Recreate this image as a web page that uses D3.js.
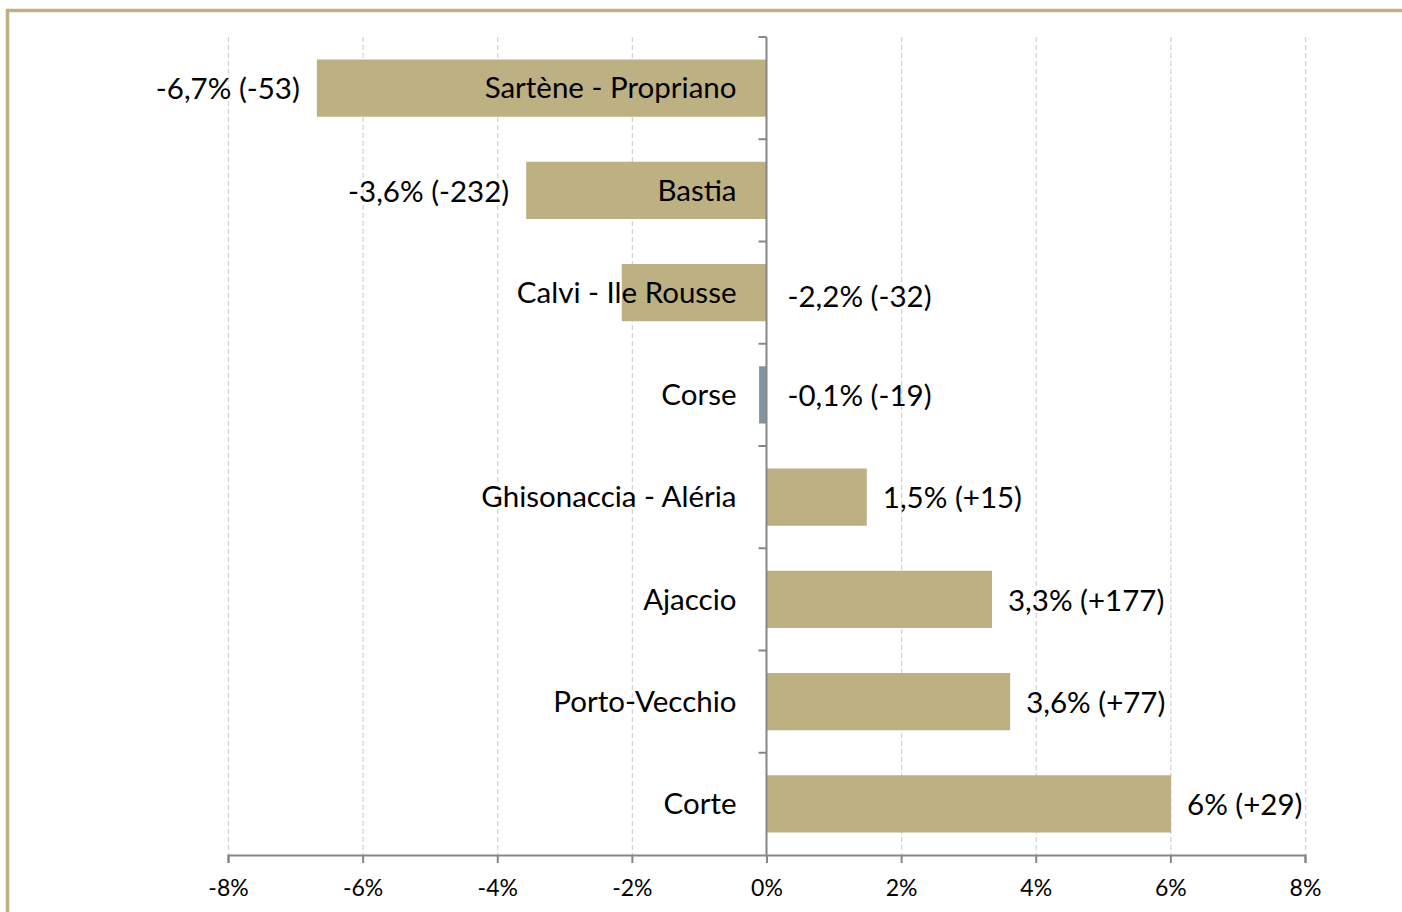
<!DOCTYPE html>
<html>
<head>
<meta charset="utf-8">
<script src="https://cdn.jsdelivr.net/npm/d3@7"></script>
<style>
  body { margin: 0; background: #fff; }
  svg text { font-family: Lato, 'Open Sans', sans-serif; fill: #000; }
</style>
</head>
<body>
<div id="chart"></div>
<script>
// data
var categories = ['Sartène - Propriano', 'Bastia', 'Calvi - Ile Rousse', 'Corse',
                  'Ghisonaccia - Aléria', 'Ajaccio', 'Porto-Vecchio', 'Corte'];
var values = [-6.68, -3.57, -2.15, -0.11, 1.49, 3.35, 3.62, 6.01];
var valueLabels = ['-6,7% (-53)', '-3,6% (-232)', '-2,2% (-32)', '-0,1% (-19)',
                   '1,5% (+15)', '3,3% (+177)', '3,6% (+77)', '6% (+29)'];
var xTicks = [-8, -6, -4, -2, 0, 2, 4, 6, 8];

var W = 1402, H = 912;
var margin = {top: 37, left: 228, right: 97, bottom: 57};

var svg = d3.select('#chart')
  .append('svg')
    .attr('width', W)
    .attr('height', H);

// frame border (only top and left are visible)
svg.append('rect')
  .attr('x', 7.5)
  .attr('y', 10.5)
  .attr('width', W + 20)
  .attr('height', H + 20)
  .attr('fill', 'none')
  .attr('stroke', '#bfb07f')
  .attr('stroke-width', 3.5);

var x = d3.scaleLinear()
    .domain([-8, 8])
    .range([margin.left, W - margin.right]);

var y = d3.scaleBand()
    .domain(categories)
    .range([margin.top, H - margin.bottom])
    .paddingInner(0.44)
    .paddingOuter(0.22);

var bottom = H - margin.bottom;
var step = y.step();

// dashed vertical gridlines
svg.append('g')
  .selectAll('line')
  .data(xTicks.filter(function(d) { return d !== 0; }))
  .enter().append('line')
    .attr('x1', function(d) { return x(d) + 0.5; })
    .attr('x2', function(d) { return x(d) + 0.5; })
    .attr('y1', margin.top)
    .attr('y2', bottom)
    .attr('stroke', '#d4d4d4')
    .attr('stroke-width', 1.3)
    .attr('stroke-dasharray', '5,3');

// bars
svg.append('g')
  .selectAll('rect')
  .data(values)
  .enter().append('rect')
    .attr('x', function(d) { return x(Math.min(0, d)); })
    .attr('y', function(d, i) { return y(categories[i]); })
    .attr('width', function(d) { return Math.abs(x(d) - x(0)); })
    .attr('height', y.bandwidth())
    .attr('fill', function(d, i) { return categories[i] === 'Corse' ? '#7f95a0' : '#bdb082'; });

// x axis
var xAxis = svg.append('g')
    .attr('transform', 'translate(0,' + bottom + ')')
    .call(d3.axisBottom(x).tickValues(xTicks).tickSize(8).tickPadding(17)
      .tickFormat(function(d) { return d + '%'; }));
xAxis.select('.domain').attr('stroke', '#868686').attr('stroke-width', 2);
xAxis.selectAll('.tick line').attr('stroke', '#868686').attr('stroke-width', 2);
xAxis.selectAll('text').attr('font-size', 23).attr('font-family', 'Lato, sans-serif');

// vertical axis at zero, ticks at band boundaries
var yAxis = svg.append('g');
yAxis.append('line')
  .attr('x1', x(0))
  .attr('x2', x(0))
  .attr('y1', margin.top)
  .attr('y2', bottom)
  .attr('stroke', '#868686')
  .attr('stroke-width', 2);
yAxis.selectAll('.ytick')
  .data(categories)
  .enter().append('line')
    .attr('class', 'ytick')
    .attr('x1', x(0) - 8)
    .attr('x2', x(0))
    .attr('y1', function(d) { return y(d) - (y.paddingInner() * step) / 2; })
    .attr('y2', function(d) { return y(d) - (y.paddingInner() * step) / 2; })
    .attr('stroke', '#868686')
    .attr('stroke-width', 2);

// category labels
svg.append('g')
  .selectAll('text')
  .data(categories)
  .enter().append('text')
    .attr('x', x(0) - 30)
    .attr('y', function(d) { return y(d) + y.bandwidth() / 2; })
    .attr('dy', '0.35em')
    .attr('text-anchor', 'end')
    .attr('font-size', 29.5)
    .text(function(d) { return d; });

// value labels: short negative bars get their label right of zero
function shortNeg(d) { return d < 0 && d > -2.5; }
svg.append('g')
  .selectAll('text')
  .data(values)
  .enter().append('text')
    .attr('x', function(d) {
      if (shortNeg(d)) return x(0) + 21;
      return d < 0 ? x(d) - 17 : x(d) + 16;
    })
    .attr('y', function(d, i) {
      var c = y(categories[i]) + y.bandwidth() / 2;
      return (shortNeg(d) && d < -1) ? c + 4 : c + 1;
    })
    .attr('dy', '0.35em')
    .attr('text-anchor', function(d) { return (d < 0 && !shortNeg(d)) ? 'end' : 'start'; })
    .attr('font-size', 29.5)
    .text(function(d, i) { return valueLabels[i]; });
</script>
</body>
</html>
